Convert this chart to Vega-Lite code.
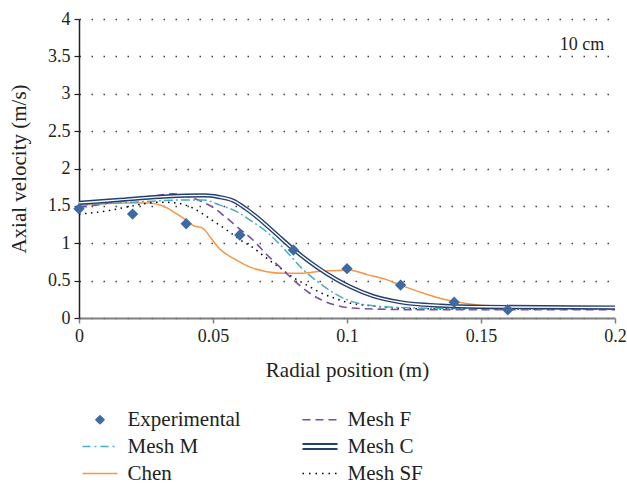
{
  "$schema": "https://vega.github.io/schema/vega-lite/v6.json",
  "width": 536,
  "height": 299,
  "autosize": {"type": "none"},
  "padding": {"left": 79, "top": 19, "right": 12, "bottom": 165},
  "background": "white",
  "config": {
    "font": "Liberation Serif",
    "view": {"stroke": null},
    "text": {"font": "Liberation Serif"},
    "legend": {"labelFont": "Liberation Serif", "titleFont": "Liberation Serif"},
    "axis": {"labelFont": "Liberation Serif", "titleFont": "Liberation Serif", "labelColor": "#231f20", "titleColor": "#231f20", "titleFontWeight": "normal", "labelFlush": false}
  },
  "datasets": {
    "exp": [
      {"series": "Experimental", "x": 0, "y": 1.46},
      {"series": "Experimental", "x": 0.02, "y": 1.39},
      {"series": "Experimental", "x": 0.04, "y": 1.26},
      {"series": "Experimental", "x": 0.06, "y": 1.11},
      {"series": "Experimental", "x": 0.08, "y": 0.91},
      {"series": "Experimental", "x": 0.1, "y": 0.66},
      {"series": "Experimental", "x": 0.12, "y": 0.44},
      {"series": "Experimental", "x": 0.14, "y": 0.21},
      {"series": "Experimental", "x": 0.16, "y": 0.11}
    ],
    "meshc": [
      {"series": "Mesh C", "x": 0, "y": 1.54}, {"series": "Mesh C", "x": 0.015, "y": 1.58}, {"series": "Mesh C", "x": 0.03, "y": 1.62},
      {"series": "Mesh C", "x": 0.047, "y": 1.64}, {"series": "Mesh C", "x": 0.052, "y": 1.62}, {"series": "Mesh C", "x": 0.0575, "y": 1.57},
      {"series": "Mesh C", "x": 0.062, "y": 1.47}, {"series": "Mesh C", "x": 0.0664, "y": 1.35}, {"series": "Mesh C", "x": 0.074, "y": 1.11},
      {"series": "Mesh C", "x": 0.08, "y": 0.92}, {"series": "Mesh C", "x": 0.0888, "y": 0.68}, {"series": "Mesh C", "x": 0.0963, "y": 0.51},
      {"series": "Mesh C", "x": 0.1011, "y": 0.42}, {"series": "Mesh C", "x": 0.11, "y": 0.29}, {"series": "Mesh C", "x": 0.12, "y": 0.21},
      {"series": "Mesh C", "x": 0.135, "y": 0.165}, {"series": "Mesh C", "x": 0.15, "y": 0.15}, {"series": "Mesh C", "x": 0.2, "y": 0.14}
    ],
    "meshm": [
      {"series": "Mesh M", "x": 0, "y": 1.51}, {"series": "Mesh M", "x": 0.02, "y": 1.55}, {"series": "Mesh M", "x": 0.041, "y": 1.58},
      {"series": "Mesh M", "x": 0.0463, "y": 1.58}, {"series": "Mesh M", "x": 0.0526, "y": 1.51}, {"series": "Mesh M", "x": 0.059, "y": 1.42},
      {"series": "Mesh M", "x": 0.0638, "y": 1.31}, {"series": "Mesh M", "x": 0.0701, "y": 1.15}, {"series": "Mesh M", "x": 0.0745, "y": 1.0},
      {"series": "Mesh M", "x": 0.0787, "y": 0.84}, {"series": "Mesh M", "x": 0.0836, "y": 0.65}, {"series": "Mesh M", "x": 0.09, "y": 0.46},
      {"series": "Mesh M", "x": 0.0963, "y": 0.31}, {"series": "Mesh M", "x": 0.1, "y": 0.245}, {"series": "Mesh M", "x": 0.105, "y": 0.19},
      {"series": "Mesh M", "x": 0.112, "y": 0.155}, {"series": "Mesh M", "x": 0.125, "y": 0.135}, {"series": "Mesh M", "x": 0.15, "y": 0.125},
      {"series": "Mesh M", "x": 0.2, "y": 0.12}
    ],
    "meshf": [
      {"series": "Mesh F", "x": 0, "y": 1.48}, {"series": "Mesh F", "x": 0.0063, "y": 1.51}, {"series": "Mesh F", "x": 0.0175, "y": 1.58},
      {"series": "Mesh F", "x": 0.0276, "y": 1.63}, {"series": "Mesh F", "x": 0.0351, "y": 1.66}, {"series": "Mesh F", "x": 0.041, "y": 1.62},
      {"series": "Mesh F", "x": 0.0463, "y": 1.55}, {"series": "Mesh F", "x": 0.05, "y": 1.48}, {"series": "Mesh F", "x": 0.055, "y": 1.34},
      {"series": "Mesh F", "x": 0.06, "y": 1.19}, {"series": "Mesh F", "x": 0.065, "y": 1.04}, {"series": "Mesh F", "x": 0.07, "y": 0.85},
      {"series": "Mesh F", "x": 0.075, "y": 0.68}, {"series": "Mesh F", "x": 0.08, "y": 0.51}, {"series": "Mesh F", "x": 0.085, "y": 0.36},
      {"series": "Mesh F", "x": 0.09, "y": 0.25}, {"series": "Mesh F", "x": 0.095, "y": 0.18}, {"series": "Mesh F", "x": 0.1, "y": 0.14},
      {"series": "Mesh F", "x": 0.11, "y": 0.12}, {"series": "Mesh F", "x": 0.13, "y": 0.11}, {"series": "Mesh F", "x": 0.2, "y": 0.11}
    ],
    "meshsf": [
      {"series": "Mesh SF", "x": 0, "y": 1.39}, {"series": "Mesh SF", "x": 0.01, "y": 1.43}, {"series": "Mesh SF", "x": 0.02, "y": 1.5},
      {"series": "Mesh SF", "x": 0.03, "y": 1.55}, {"series": "Mesh SF", "x": 0.036, "y": 1.54}, {"series": "Mesh SF", "x": 0.0425, "y": 1.47},
      {"series": "Mesh SF", "x": 0.0463, "y": 1.39}, {"series": "Mesh SF", "x": 0.05, "y": 1.3}, {"series": "Mesh SF", "x": 0.055, "y": 1.18},
      {"series": "Mesh SF", "x": 0.06, "y": 1.05}, {"series": "Mesh SF", "x": 0.065, "y": 0.94}, {"series": "Mesh SF", "x": 0.07, "y": 0.8},
      {"series": "Mesh SF", "x": 0.075, "y": 0.67}, {"series": "Mesh SF", "x": 0.08, "y": 0.54}, {"series": "Mesh SF", "x": 0.085, "y": 0.44},
      {"series": "Mesh SF", "x": 0.09, "y": 0.34}, {"series": "Mesh SF", "x": 0.095, "y": 0.27}, {"series": "Mesh SF", "x": 0.1, "y": 0.21},
      {"series": "Mesh SF", "x": 0.11, "y": 0.16}, {"series": "Mesh SF", "x": 0.12, "y": 0.13}, {"series": "Mesh SF", "x": 0.14, "y": 0.12},
      {"series": "Mesh SF", "x": 0.2, "y": 0.12}
    ],
    "chen": [
      {"series": "Chen", "x": 0, "y": 1.51}, {"series": "Chen", "x": 0.0175, "y": 1.54}, {"series": "Chen", "x": 0.026, "y": 1.54},
      {"series": "Chen", "x": 0.0325, "y": 1.48}, {"series": "Chen", "x": 0.0362, "y": 1.4}, {"series": "Chen", "x": 0.04, "y": 1.31},
      {"series": "Chen", "x": 0.0425, "y": 1.24}, {"series": "Chen", "x": 0.0463, "y": 1.2}, {"series": "Chen", "x": 0.049, "y": 1.08},
      {"series": "Chen", "x": 0.0526, "y": 0.92}, {"series": "Chen", "x": 0.0575, "y": 0.8}, {"series": "Chen", "x": 0.06, "y": 0.75},
      {"series": "Chen", "x": 0.0638, "y": 0.68}, {"series": "Chen", "x": 0.0701, "y": 0.62}, {"series": "Chen", "x": 0.0761, "y": 0.6},
      {"series": "Chen", "x": 0.0836, "y": 0.6}, {"series": "Chen", "x": 0.091, "y": 0.63}, {"series": "Chen", "x": 0.1011, "y": 0.64},
      {"series": "Chen", "x": 0.1075, "y": 0.58}, {"series": "Chen", "x": 0.115, "y": 0.51}, {"series": "Chen", "x": 0.12, "y": 0.44},
      {"series": "Chen", "x": 0.127, "y": 0.35}, {"series": "Chen", "x": 0.135, "y": 0.26}, {"series": "Chen", "x": 0.145, "y": 0.19},
      {"series": "Chen", "x": 0.155, "y": 0.16}, {"series": "Chen", "x": 0.17, "y": 0.15}, {"series": "Chen", "x": 0.2, "y": 0.15}
    ],
    "label": [{"x": 0.196, "y": 3.65, "text": "10 cm"}]
  },
  "encoding": {
    "x": {
      "field": "x", "type": "quantitative",
      "scale": {"domain": [0, 0.2], "nice": false, "zero": false},
      "axis": {
        "values": [0, 0.05, 0.1, 0.15, 0.2], "format": "~g", "grid": false,
        "labelFont": "Liberation Serif", "titleFont": "Liberation Serif",
        "domainColor": "#7f7f7f", "domainWidth": 2, "tickColor": "#7f7f7f", "tickWidth": 1.5, "tickSize": 5,
        "labelFontSize": 18, "labelPadding": 4, "title": "Radial position (m)", "titleFontSize": 21, "titlePadding": 14
      }
    },
    "y": {
      "field": "y", "type": "quantitative",
      "scale": {"domain": [0, 4], "nice": false},
      "axis": {
        "values": [0, 0.5, 1, 1.5, 2, 2.5, 3, 3.5, 4], "format": "~g", "grid": true,
        "labelFont": "Liberation Serif", "titleFont": "Liberation Serif",
        "gridDash": [1.5, 10.5], "gridColor": "#404040", "gridWidth": 1.5,
        "domainColor": "#231f20", "domainWidth": 1.5, "tickColor": "#231f20", "tickWidth": 1.2, "tickSize": 5,
        "labelFontSize": 18, "labelPadding": 4, "title": "Axial velocity (m/s)", "titleFontSize": 21, "titlePadding": 18
      }
    }
  },
  "layer": [
    {
      "data": {"name": "chen"},
      "mark": {"type": "line", "strokeWidth": 1.5, "interpolate": "monotone"},
      "encoding": {
        "color": {
          "field": "series", "type": "nominal",
          "scale": {
            "domain": ["Experimental", "Mesh M", "Chen", "Mesh F", "Mesh C", "Mesh SF"],
            "range": ["#3e6aa3", "#4bacc6", "#f79646", "#7a4ca6", "#233f6e", "#000000"]
          },
          "legend": {
            "title": null, "orient": "none", "legendX": 10.5, "legendY": 390, "direction": "vertical", "columns": 2,
            "symbolType": "stroke", "symbolSize": 1225, "symbolStrokeWidth": 1.5, "labelFontSize": 21,
            "labelFont": "Liberation Serif", "labelColor": "#231f20", "labelOffset": 17, "rowPadding": 5, "columnPadding": 57,
            "encode": {
              "symbols": {
                "update": {
                  "shape": {"signal": "datum.value === 'Experimental' ? 'diamond' : datum.value === 'Mesh C' ? 'M-1,-0.14H1M-1,0.14H1' : 'stroke'"},
                  "size": {"signal": "datum.value === 'Experimental' ? 64 : 1225"},
                  "stroke": {"signal": "datum.value === 'Experimental' ? 'transparent' : datum.value === 'Mesh F' ? '#7a4ca6' : datum.value === 'Mesh M' ? '#4bacc6' : datum.value === 'Mesh C' ? '#233f6e' : datum.value === 'Chen' ? '#f79646' : '#000000'"},
                  "strokeDash": {"signal": "datum.value === 'Mesh M' ? [8, 4, 2, 4] : datum.value === 'Mesh F' ? [8, 5] : datum.value === 'Mesh SF' ? [1.5, 5] : [1, 0]"},
                  "strokeWidth": {"signal": "datum.value === 'Mesh C' ? 2 : 1.5"},
                  "opacity": {"value": 1}
                }
              }
            }
          }
        }
      }
    },
    {
      "data": {"name": "meshsf"},
      "mark": {"type": "line", "strokeWidth": 1.5, "strokeDash": [1.5, 4.5], "interpolate": "monotone"},
      "encoding": {"color": {"field": "series", "type": "nominal"}}
    },
    {
      "data": {"name": "meshf"},
      "mark": {"type": "line", "strokeWidth": 1.6, "strokeDash": [8, 5], "interpolate": "monotone"},
      "encoding": {"color": {"field": "series", "type": "nominal"}}
    },
    {
      "data": {"name": "meshm"},
      "mark": {"type": "line", "strokeWidth": 1.5, "strokeDash": [9, 3, 2, 3], "interpolate": "monotone"},
      "encoding": {"color": {"field": "series", "type": "nominal"}}
    },
    {
      "data": {"name": "meshc"},
      "mark": {"type": "line", "strokeWidth": 4.2, "interpolate": "monotone"},
      "encoding": {"color": {"field": "series", "type": "nominal"}}
    },
    {
      "data": {"name": "meshc"},
      "mark": {"type": "line", "strokeWidth": 1.4, "color": "#ffffff", "interpolate": "monotone"},
      "encoding": {}
    },
    {
      "data": {"name": "exp"},
      "mark": {"type": "point", "shape": "diamond", "filled": true, "size": 130, "opacity": 1},
      "encoding": {"color": {"field": "series", "type": "nominal"}}
    },
    {
      "data": {"name": "label"},
      "mark": {"type": "text", "align": "right", "baseline": "middle", "fontSize": 18, "font": "Liberation Serif", "color": "#231f20"},
      "encoding": {"text": {"field": "text"}}
    }
  ]
}
